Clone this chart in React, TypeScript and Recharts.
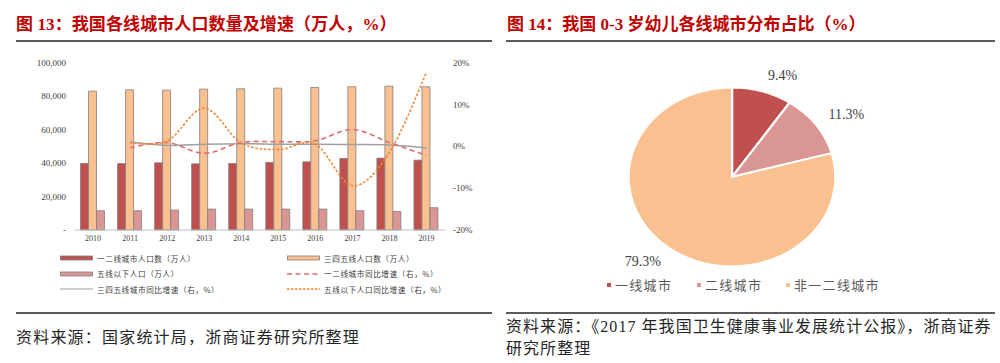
import React from 'react';
import {
  ComposedChart, Bar, Line, XAxis, YAxis, PieChart, Pie, Cell,
} from 'recharts';

const years = ['2010', '2011', '2012', '2013', '2014', '2015', '2016', '2017', '2018', '2019'];
const tier12Pop = [39700, 39700, 40100, 39500, 39700, 40300, 40700, 42700, 42900, 41700];
const tier345Pop = [82900, 83700, 83500, 84100, 84300, 84700, 85100, 85500, 85900, 85500];
const below5Pop = [11500, 11500, 11900, 12500, 12500, 12500, 12500, 11500, 11100, 13300];
const tier12Growth = [null, -0.4, 0.9, -1.7, 0.9, 1.1, 1.3, 4.0, 0.9, -2.2];
const tier345Growth = [null, 1.0, 0.2, 0.5, 0.6, 0.5, 0.5, 0.4, 0.3, -0.4];
const below5Growth = [null, 0.9, 1.2, 9.1, 0.8, -0.8, 0.5, -9.4, -1.5, 17.7];

const leftTicks = [0, 20000, 40000, 60000, 80000, 100000];
const rightTicks = [-20, -10, 0, 10, 20];

const pieNames = ['一线城市', '二线城市', '非一二线城市'];
const pieValues = [9.4, 11.3, 79.3];
const pieColors = ['#C0504D', '#D99694', '#FAC090'];

const barData = years.map((y, i) => ({
  year: y,
  t12: tier12Pop[i],
  t345: tier345Pop[i],
  b5: below5Pop[i],
  g12: tier12Growth[i],
  g345: tier345Growth[i],
  g5: below5Growth[i],
}));

const pieData = pieNames.map((n, i) => ({ name: n, value: pieValues[i] }));

// Excel-like smooth curve (Catmull-Rom / cardinal with tension 0)
const smoothCurve: any = (context: any) => {
  let x0 = NaN, y0 = NaN, x1 = NaN, y1 = NaN, x2 = NaN, y2 = NaN;
  let pt = 0;
  let line: number = NaN;
  const k = 1 / 6;
  const seg = (x: number, y: number) => {
    context.bezierCurveTo(
      x1 + k * (x2 - x0), y1 + k * (y2 - y0),
      x2 + k * (x1 - x), y2 + k * (y1 - y),
      x2, y2,
    );
  };
  return {
    areaStart() { line = 0; },
    areaEnd() { line = NaN; },
    lineStart() { x0 = x1 = x2 = y0 = y1 = y2 = NaN; pt = 0; },
    lineEnd() {
      if (pt === 2) context.lineTo(x2, y2);
      else if (pt === 3) seg(x1, y1);
      if (line || (line !== 0 && pt === 1)) context.closePath();
      line = 1 - line;
    },
    point(xx: number, yy: number) {
      const x = +xx, y = +yy;
      switch (pt) {
        case 0: pt = 1; if (line) context.lineTo(x, y); else context.moveTo(x, y); break;
        case 1: pt = 2; x1 = x; y1 = y; break;
        case 2: pt = 3; seg(x, y); break;
        default: seg(x, y); break;
      }
      x0 = x1; x1 = x2; x2 = x;
      y0 = y1; y1 = y2; y2 = y;
    },
  };
};

const SERIF = '"Liberation Serif", "Times New Roman", serif';
const CJK = '"Noto Sans CJK SC", sans-serif';
const TITLE_FONT = '"Liberation Serif", "Noto Sans CJK SC", serif';

const legendItems = [
  { label: '一二线城市人口数（万人）', kind: 'bar', color: '#C0504D' },
  { label: '三四五线人口数（万人）', kind: 'bar', color: '#FAC090' },
  { label: '五线以下人口（万人）', kind: 'bar', color: '#D99694' },
  { label: '一二线城市同比增速（右，%）', kind: 'dash', color: '#DC6E6E' },
  { label: '三四五线城市同比增速（右，%）', kind: 'line', color: '#A0A0A0' },
  { label: '五线以下人口同比增速（右，%）', kind: 'dot', color: '#F0852D' },
];

const LegendIcon = ({ kind, color }: { kind: string; color: string }) => (
  <svg width={33} height={6} style={{ display: 'block' }}>
    {kind === 'bar' && <rect x={0.5} y={1} width={32} height={4} fill={color} stroke="#7f7f7f" strokeWidth={0.8} />}
    {kind === 'dash' && <line x1={0} x2={33} y1={3} y2={3} stroke={color} strokeWidth={1.5} strokeDasharray="5 3.5" />}
    {kind === 'line' && <line x1={0} x2={33} y1={3} y2={3} stroke={color} strokeWidth={1.2} />}
    {kind === 'dot' && <line x1={0} x2={33} y1={3} y2={3} stroke={color} strokeWidth={1.5} strokeDasharray="2.5 1.5" />}
  </svg>
);

const SX = 1.156;

const renderPieLabel = (props: any) => {
  const { cx, cy, midAngle, value } = props;
  const RAD = Math.PI / 180;
  const r = 106;
  const c = Math.cos(-midAngle * RAD);
  const x = cx + r * c + (c >= 0 ? 13 : -13);
  const y = cy + r * Math.sin(-midAngle * RAD);
  return (
    <text
      x={x}
      y={y}
      textAnchor="middle"
      dominantBaseline="central"
      fill="#404040"
      fontSize={14}
      fontFamily={SERIF}
      transform={`translate(${x},${y}) scale(${1 / SX},1) translate(${-x},${-y})`}
    >
      {`${value.toFixed(1)}%`}
    </text>
  );
};

export default function App() {
  return (
    <div style={{ position: 'fixed', left: 0, top: 0, width: 1000, height: 363, background: '#fff', overflow: 'hidden' }}>
      {/* Titles */}
      <div style={{ position: 'absolute', left: 16, top: 14, fontFamily: TITLE_FONT, fontWeight: 700, fontSize: 17, color: '#C00000', whiteSpace: 'nowrap', lineHeight: '22px', letterSpacing: 0.1 }}>
        图 13：我国各线城市人口数量及增速（万人，%）
      </div>
      <div style={{ position: 'absolute', left: 507, top: 14, fontFamily: TITLE_FONT, fontWeight: 700, fontSize: 17, color: '#C00000', whiteSpace: 'nowrap', lineHeight: '22px' }}>
        图 14：我国 0-3 岁幼儿各线城市分布占比（%）
      </div>
      <div style={{ position: 'absolute', left: 16, top: 40, width: 476, height: 1.5, background: '#5a5a5a' }} />
      <div style={{ position: 'absolute', left: 506, top: 40, width: 489, height: 1.5, background: '#5a5a5a' }} />
      <div style={{ position: 'absolute', left: 16, top: 312, width: 476, height: 1.5, background: '#5a5a5a' }} />
      <div style={{ position: 'absolute', left: 506, top: 312, width: 489, height: 1.5, background: '#5a5a5a' }} />

      {/* Left chart */}
      <div style={{ position: 'absolute', left: 0, top: 0 }}>
        <ComposedChart
          width={500}
          height={250}
          data={barData}
          margin={{ top: 62.5, right: 0, bottom: 5, left: 0 }}
          barCategoryGap={6}
          barGap={0}
        >
          <XAxis
            dataKey="year"
            axisLine={{ stroke: '#bfbfbf', strokeWidth: 1 }}
            tickLine={false}
            tickSize={0}
            tickMargin={5}
            height={15}
            interval={0}
            tick={{ fontSize: 8, fontFamily: SERIF, fill: '#404040' }}
          />
          <YAxis
            yAxisId="left"
            orientation="left"
            width={74.5}
            domain={[0, 100000]}
            ticks={leftTicks}
            axisLine={false}
            tickLine={false}
            tickSize={0}
            tickMargin={8.5}
            tickFormatter={(v: number) => (v === 0 ? '-' : v.toLocaleString('en-US'))}
            tick={{ fontSize: 9, fontFamily: SERIF, fill: '#404040' }}
          />
          <YAxis
            yAxisId="right"
            orientation="right"
            width={55}
            domain={[-20, 20]}
            ticks={rightTicks}
            axisLine={false}
            tickLine={false}
            tickSize={0}
            tickMargin={8}
            tickFormatter={(v: number) => `${v}%`}
            tick={{ fontSize: 9, fontFamily: SERIF, fill: '#404040' }}
          />
          <Bar yAxisId="left" dataKey="t12" fill="#C0504D" stroke="#7f7f7f" strokeWidth={0.8} isAnimationActive={false} />
          <Bar yAxisId="left" dataKey="t345" fill="#FAC090" stroke="#7f7f7f" strokeWidth={0.8} isAnimationActive={false} />
          <Bar yAxisId="left" dataKey="b5" fill="#D99694" stroke="#7f7f7f" strokeWidth={0.8} isAnimationActive={false} />
          <Line yAxisId="right" dataKey="g345" type={smoothCurve} stroke="#A0A0A0" strokeWidth={1.5} dot={false} activeDot={false} isAnimationActive={false} />
          <Line yAxisId="right" dataKey="g12" type={smoothCurve} stroke="#DC6E6E" strokeWidth={1.6} strokeDasharray="5 3.5" dot={false} activeDot={false} isAnimationActive={false} />
          <Line yAxisId="right" dataKey="g5" type={smoothCurve} stroke="#F0852D" strokeWidth={1.6} strokeDasharray="2.5 1.8" dot={false} activeDot={false} isAnimationActive={false} />
        </ComposedChart>
      </div>

      {/* Left legend */}
      {legendItems.map((it, i) => {
        const col = i % 2;
        const row = Math.floor(i / 2);
        return (
          <div
            key={it.label}
            style={{
              position: 'absolute',
              left: col === 0 ? 60 : 287,
              top: 252 + row * 15.5,
              display: 'flex',
              alignItems: 'center',
              height: 12,
              whiteSpace: 'nowrap',
            }}
          >
            <LegendIcon kind={it.kind} color={it.color} />
            <span style={{ marginLeft: 4, fontFamily: CJK, fontSize: 7.6, color: '#404040', letterSpacing: 0.6 }}>{it.label}</span>
          </div>
        );
      })}

      {/* Pie chart */}
      <div
        style={{
          position: 'absolute',
          left: 731.5 - 150,
          top: 176.5 - 140,
          width: 300,
          height: 280,
          transform: `scaleX(${SX})`,
          transformOrigin: '150px 140px',
        }}
      >
        <PieChart width={300} height={280} margin={{ top: 0, right: 0, bottom: 0, left: 0 }}>
          <Pie
            data={pieData}
            dataKey="value"
            nameKey="name"
            cx={150}
            cy={140}
            outerRadius={89.5}
            startAngle={90}
            endAngle={-270}
            stroke="#ffffff"
            strokeWidth={2}
            label={renderPieLabel}
            labelLine={false}
            isAnimationActive={false}
          >
            {pieData.map((d, i) => (
              <Cell key={d.name} fill={pieColors[i]} />
            ))}
          </Pie>
        </PieChart>
      </div>

      {/* Pie legend */}
      {pieNames.map((n, i) => {
        const lefts = [607, 697, 786];
        return (
          <div
            key={n}
            style={{ position: 'absolute', left: lefts[i], top: 276, height: 17, display: 'flex', alignItems: 'center', whiteSpace: 'nowrap' }}
          >
            <span style={{ display: 'inline-block', width: 4, height: 4, background: pieColors[i] }} />
            <span style={{ marginLeft: 4, fontFamily: CJK, fontSize: 13, color: '#595959', letterSpacing: 1.3 }}>{n}</span>
          </div>
        );
      })}

      {/* Sources */}
      <div style={{ position: 'absolute', left: 16, top: 326, fontFamily: CJK, fontSize: 16, color: '#262626', letterSpacing: 1.2, whiteSpace: 'nowrap', lineHeight: '21px' }}>
        资料来源：国家统计局，浙商证券研究所整理
      </div>
      <div style={{ position: 'absolute', left: 506, top: 316, fontFamily: TITLE_FONT, fontSize: 16, color: '#262626', letterSpacing: 1.05, whiteSpace: 'nowrap', lineHeight: '21px' }}>
        资料来源：《2017 年我国卫生健康事业发展统计公报》，浙商证券
      </div>
      <div style={{ position: 'absolute', left: 506, top: 337, fontFamily: CJK, fontSize: 16, color: '#262626', letterSpacing: 1.05, whiteSpace: 'nowrap', lineHeight: '21px' }}>
        研究所整理
      </div>
    </div>
  );
}
